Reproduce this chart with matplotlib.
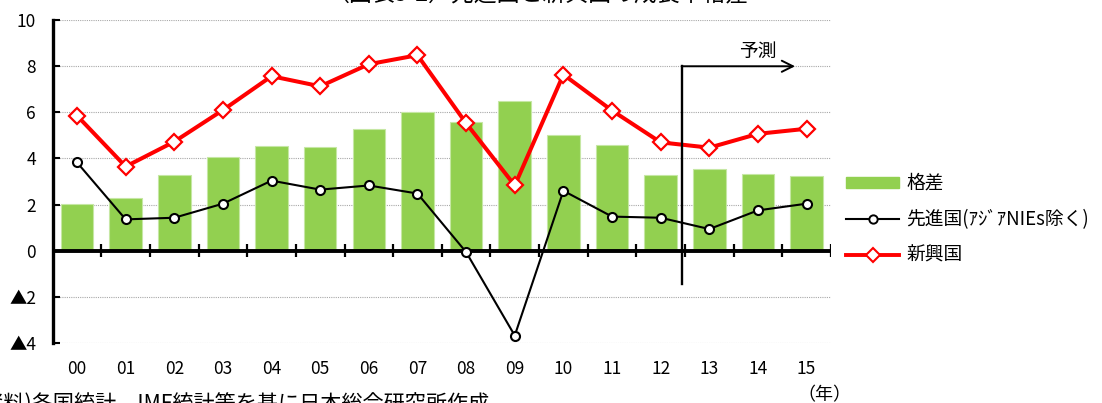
import matplotlib
matplotlib.use("Agg")
import matplotlib.pyplot as plt
from matplotlib.lines import Line2D
from matplotlib.patches import Patch

plt.rcParams['font.family'] = ['Noto Sans CJK JP', 'DejaVu Sans']

years = ["00", "01", "02", "03", "04", "05", "06", "07", "08", "09", "10", "11", "12", "13", "14", "15"]
gap = [2.03, 2.29, 3.30, 4.06, 4.53, 4.48, 5.26, 6.00, 5.59, 6.51, 5.04, 4.60, 3.27, 3.53, 3.32, 3.25]
advanced = [3.83, 1.36, 1.43, 2.04, 3.04, 2.65, 2.83, 2.48, -0.06, -3.68, 2.60, 1.48, 1.43, 0.94, 1.75, 2.04]
emerging = [5.86, 3.65, 4.73, 6.10, 7.57, 7.13, 8.09, 8.48, 5.53, 2.83, 7.64, 6.08, 4.70, 4.47, 5.07, 5.29]
yticks = [10, 8, 6, 4, 2, 0, -2, -4]
ytick_labels = ["10", "8", "6", "4", "2", "0", "▲2", "▲4"]

fig = plt.figure(figsize=(11.02, 4.03), dpi=100)
ax = fig.add_axes([0.0478, 0.149, 0.7062, 0.801])

x = list(range(len(years)))
ax.bar(x, gap, width=0.67, color='#92D050', edgecolor='#C6E7A4', linewidth=0.8, zorder=2)
ax.plot(x, emerging, color='#FF0000', lw=2.9, marker='D', ms=8.5, mfc='white', mec='#FF0000', mew=1.6, zorder=5)
ax.plot(x, advanced, color='black', lw=1.5, marker='o', ms=6.5, mfc='white', mec='black', mew=1.5, zorder=4)

ax.set_xlim(-0.5, len(years) - 0.5)
ax.set_ylim(-4, 10)
ax.set_yticks(yticks)
ax.set_yticklabels(ytick_labels, fontsize=12.5)
ax.tick_params(axis='y', direction='in', length=5, width=1.5, pad=12)
ax.set_xticks(x)
ax.set_xticklabels(years, fontsize=12.5)
ax.tick_params(axis='x', length=0, pad=12)

for s in ['top', 'right', 'bottom']:
    ax.spines[s].set_visible(False)
ax.spines['left'].set_linewidth(2.4)

ax.yaxis.grid(True, linestyle=(0, (1, 1)), color='#A8A8A8', lw=0.8, zorder=0)
ax.set_axisbelow(True)

# zero axis with category tick marks
ax.axhline(0, color='black', lw=2.8, zorder=3)
ax.vlines([i + 0.5 for i in x], -0.27, 0.27, color='black', lw=1.6, zorder=3)

# forecast marker
ax.plot([12.43, 12.43], [-1.43, 8.0], color='black', lw=1.7, zorder=6)
ax.annotate('', xy=(14.82, 8.0), xytext=(12.40, 8.0),
            arrowprops=dict(arrowstyle='->', color='black', lw=1.4, mutation_scale=20), zorder=6)
ax.text(14.0, 8.2, '予測', fontsize=13.5, ha='center', va='bottom')

fig.text(797 / 1102, 1 - 386 / 403, '（年）', fontsize=13, ha='left', va='top')
fig.text(537 / 1102, 1 - 6 / 403, '（図表5-2）先進国と新興国の成長率格差', fontsize=16.5, ha='center', va='bottom')
fig.text(-25 / 1102, 1 - 394 / 403, '(資料)各国統計、IMF統計等を基に日本総合研究所作成', fontsize=15.2, ha='left', va='top')

handles = [
    Patch(facecolor='#92D050', edgecolor='#92D050'),
    Line2D([0], [0], color='black', lw=1.5, marker='o', ms=6, mfc='white', mec='black', mew=1.4),
    Line2D([0], [0], color='#FF0000', lw=2.8, marker='D', ms=7, mfc='white', mec='#FF0000', mew=1.5),
]
labels = ['格差', '先進国(ｱｼﾞｱNIEs除く)', '新興国']
fig.legend(handles, labels, loc='upper left', bbox_to_anchor=(0.768, 1 - 173 / 403), frameon=False,
           fontsize=13.5, handlelength=2.8, handleheight=0.55, handletextpad=0.4, labelspacing=0.8,
           borderaxespad=0, borderpad=0)

fig.savefig('out.png', dpi=100)
